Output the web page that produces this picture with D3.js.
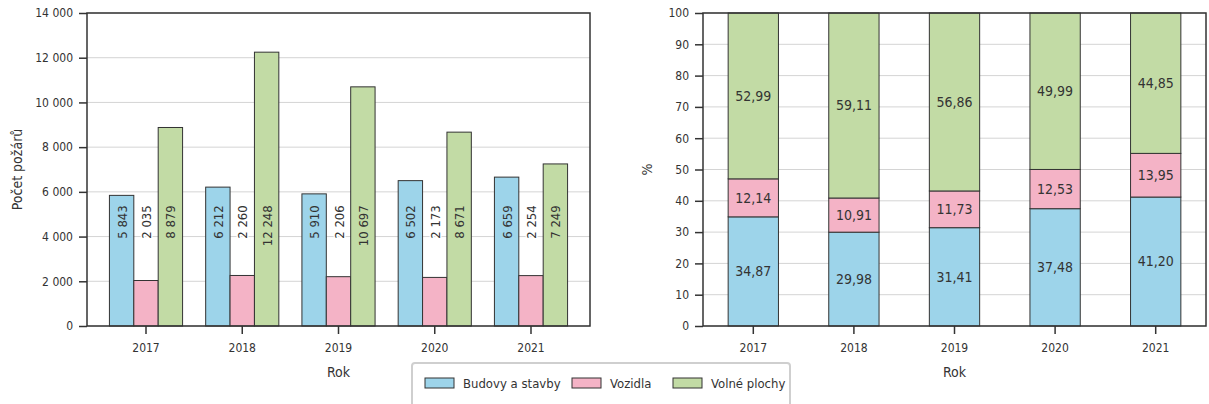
<!DOCTYPE html>
<html>
<head>
<meta charset="utf-8">
<script src="https://cdn.jsdelivr.net/npm/d3@7"></script>
<style>
  body { margin: 0; background: #fff; }
  svg text { font-family: "Liberation Sans Narrow", "DejaVu Sans Condensed", "Roboto", sans-serif; fill: #333; }
</style>
</head>
<body>
<svg id="chart" width="1209" height="404"></svg>
<script>
// data
const years = ["2017", "2018", "2019", "2020", "2021"];
const seriesNames = ["Budovy a stavby", "Vozidla", "Volné plochy"];
const colors = ["#9dd4ea", "#f4b3c6", "#c2dba5"];
const counts = [
    [5843, 6212, 5910, 6502, 6659],   // Budovy a stavby
    [2035, 2260, 2206, 2173, 2254],   // Vozidla
    [8879, 12248, 10697, 8671, 7249]  // Volné plochy
];
const shares = [
    [34.87, 29.98, 31.41, 37.48, 41.20],
    [12.14, 10.91, 11.73, 12.53, 13.95],
    [52.99, 59.11, 56.86, 49.99, 44.85]
];
const countTicks = [0, 2000, 4000, 6000, 8000, 10000, 12000, 14000];
const shareTicks = [0, 10, 20, 30, 40, 50, 60, 70, 80, 90, 100];

const cz = d3.formatLocale({decimal: ",", thousands: "\u00a0", grouping: [3], currency: ["", ""]});
const fmtInt = cz.format(",d");
const fmtDec = cz.format(".2f");

const svg = d3.select("#chart");
const plotTop = 13, plotBottom = 326;

function frame(g, x0, x1, y, ticks, fmt) {
    // gridlines
    g.append("g").selectAll("line").data(ticks).join("line")
        .attr("x1", x0).attr("x2", x1)
        .attr("y1", d => y(d)).attr("y2", d => y(d))
        .attr("stroke", "#d4d4d4").attr("stroke-width", 1);

    let ax = g.append("g")
        .attr("transform", "translate(" + x0 + ",0)")
        .call(d3.axisLeft(y).tickValues(ticks).tickFormat(fmt).tickSize(8).tickPadding(6));
    ax.select(".domain").remove();
    ax.selectAll("line").attr("stroke", "#333").attr("stroke-width", 1.5);
    ax.selectAll("text").style("font-size", "12px").attr("fill", "#333");
}

function xAxis(g, x, x0, x1) {
    let ax = g.append("g")
        .attr("transform", "translate(0," + plotBottom + ")")
        .call(d3.axisBottom(x).tickSize(8).tickPadding(9));
    ax.select(".domain").remove();
    ax.selectAll("line").attr("stroke", "#333").attr("stroke-width", 1.5);
    ax.selectAll("text").style("font-size", "12px").attr("fill", "#333");

    g.append("text")
        .attr("x", (x0 + x1) / 2).attr("y", 377)
        .attr("text-anchor", "middle")
        .style("font-size", "14px")
        .text("Rok");
}

function box(g, x0, x1) {
    g.append("rect")
        .attr("x", x0).attr("y", plotTop)
        .attr("width", x1 - x0).attr("height", plotBottom - plotTop)
        .attr("fill", "none").attr("stroke", "#333").attr("stroke-width", 1.5);
}

function haloText(sel) {
    sel.clone(true).lower()
        .attr("stroke", "#fff").attr("stroke-width", 3).attr("stroke-linejoin", "round");
}

// ---- left chart: counts ----
const L = {x0: 87, x1: 590};
const gl = svg.append("g");
const yL = d3.scaleLinear().domain([0, 14000]).range([plotBottom, plotTop]);
const xL = d3.scaleBand().domain(years).range([L.x0, L.x1]).paddingInner(0).paddingOuter(0.113);
const xSub = d3.scaleBand().domain(d3.range(3)).range([0, xL.bandwidth() * 0.76]);

frame(gl, L.x0, L.x1, yL, countTicks, fmtInt);

const groups = gl.append("g").selectAll("g").data(years).join("g")
    .attr("transform", d => "translate(" + (xL(d) + xL.bandwidth() * 0.12) + ",0)");

groups.selectAll("rect").data((d, i) => counts.map((s, k) => ({k: k, v: s[i]}))).join("rect")
    .attr("x", d => xSub(d.k))
    .attr("y", d => yL(d.v))
    .attr("width", xSub.bandwidth())
    .attr("height", d => yL(0) - yL(d.v))
    .attr("fill", d => colors[d.k])
    .attr("stroke", "#333").attr("stroke-width", 1);

groups.each(function(d, i) {
    let g = d3.select(this);
    counts.forEach((s, k) => {
        let cx = xSub(k) + xSub.bandwidth() / 2;
        let cy = yL(5400);
        let t = g.append("text")
            .attr("transform", "translate(" + (cx + 5) + "," + cy + ") rotate(-90)")
            .attr("text-anchor", "end")
            .style("font-size", "13px")
            .attr("fill", "#222")
            .text(fmtInt(s[i]));
        haloText(t);
    });
});

box(gl, L.x0, L.x1);
xAxis(gl, xL, L.x0, L.x1);

gl.append("text")
    .attr("transform", "translate(22," + ((plotTop + plotBottom) / 2) + ") rotate(-90)")
    .attr("text-anchor", "middle")
    .style("font-size", "14px")
    .text("Počet požárů");

// ---- right chart: shares ----
const R = {x0: 703, x1: 1206};
const gr = svg.append("g");
const yR = d3.scaleLinear().domain([0, 100]).range([plotBottom, plotTop]);
const xR = d3.scaleBand().domain(years).range([R.x0, R.x1]).padding(0);

frame(gr, R.x0, R.x1, yR, shareTicks, d => d);

const stackData = years.map((y, i) => {
    let row = {year: y};
    seriesNames.forEach((n, k) => row[n] = shares[k][i]);
    return row;
});
const stacked = d3.stack().keys(seriesNames)(stackData);
const barW = xR.bandwidth() * 0.5;

stacked.forEach((layer, k) => {
    let lg = gr.append("g");
    lg.selectAll("rect").data(layer).join("rect")
        .attr("x", d => xR(d.data.year) + (xR.bandwidth() - barW) / 2)
        .attr("y", d => yR(Math.min(d[1], 100)))
        .attr("width", barW)
        .attr("height", d => yR(d[0]) - yR(Math.min(d[1], 100)))
        .attr("fill", colors[k])
        .attr("stroke", "#333").attr("stroke-width", 1);
});

stacked.forEach((layer, k) => {
    layer.forEach(d => {
        let t = gr.append("text")
            .attr("x", xR(d.data.year) + xR.bandwidth() / 2)
            .attr("y", yR((d[0] + Math.min(d[1], 100)) / 2))
            .attr("dy", "0.35em")
            .attr("text-anchor", "middle")
            .style("font-size", "14px")
            .attr("fill", "#222")
            .text(fmtDec(d.data[layer.key]));
        haloText(t);
    });
});

box(gr, R.x0, R.x1);
xAxis(gr, xR, R.x0, R.x1);

gr.append("text")
    .attr("transform", "translate(652," + ((plotTop + plotBottom) / 2) + ") rotate(-90)")
    .attr("text-anchor", "middle")
    .style("font-size", "14px")
    .text("%");

// ---- legend ----
const lg = svg.append("g");
lg.append("rect")
    .attr("x", 412).attr("y", 363).attr("width", 378).attr("height", 50)
    .attr("rx", 3)
    .attr("fill", "#fff").attr("stroke", "#cfcfcf").attr("stroke-width", 2);

const legX = d3.scaleOrdinal().domain(seriesNames).range([425, 572, 673]);
seriesNames.forEach((n, k) => {
    lg.append("rect")
        .attr("x", legX(n)).attr("y", 378)
        .attr("width", 29).attr("height", 10)
        .attr("fill", colors[k]).attr("stroke", "#333").attr("stroke-width", 1);
    lg.append("text")
        .attr("x", legX(n) + 38).attr("y", 383)
        .attr("dy", "0.35em")
        .style("font-size", "13px")
        .text(n);
});
</script>
</body>
</html>
